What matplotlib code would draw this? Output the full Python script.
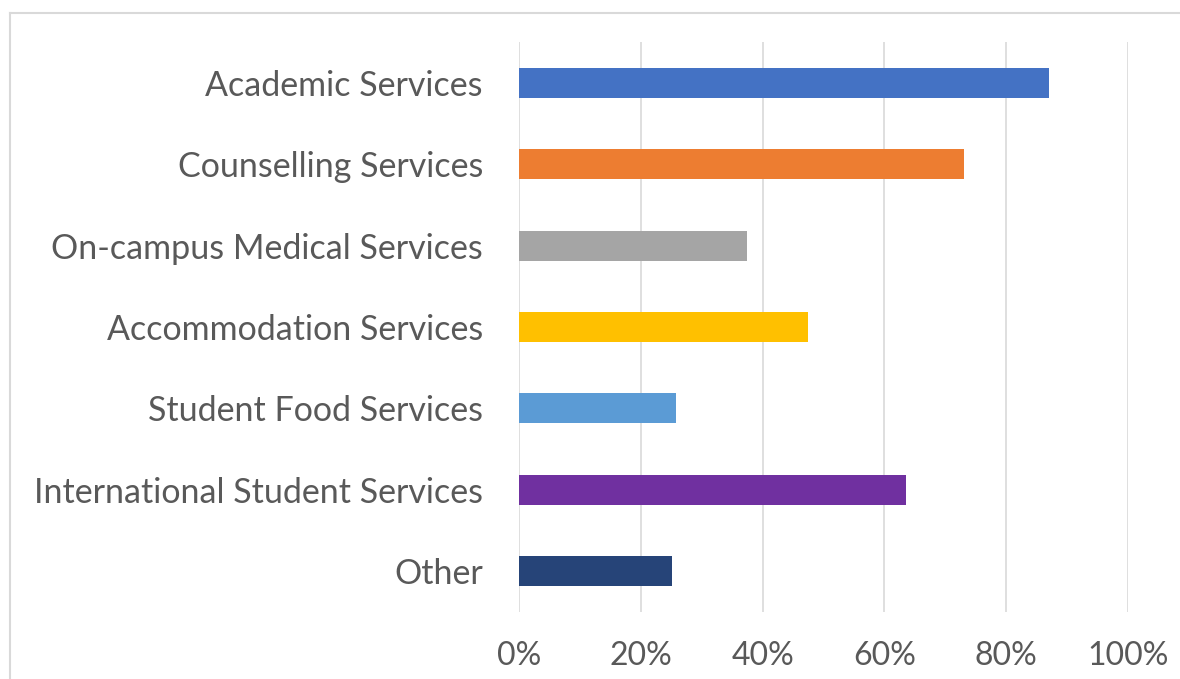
import matplotlib
matplotlib.use("Agg")
import matplotlib.pyplot as plt
from matplotlib.lines import Line2D
from matplotlib.ticker import FuncFormatter

# data
categories = ['Academic Services', 'Counselling Services', 'On-campus Medical Services',
              'Accommodation Services', 'Student Food Services',
              'International Student Services', 'Other']
values = [0.87, 0.73, 0.375, 0.475, 0.258, 0.635, 0.252]
colors = ['#4472C4', '#ED7D31', '#A5A5A5', '#FFC000', '#5B9BD5', '#7030A0', '#264478']
xticks = [0, 0.2, 0.4, 0.6, 0.8, 1.0]

plt.rcParams['font.family'] = ['Lato', 'DejaVu Sans']

fig = plt.figure(figsize=(11.8, 6.79), dpi=100)
fig.patch.set_facecolor('white')

# outer chart-area border (cut off at right and bottom)
W, H = 1180, 679
fig.add_artist(Line2D([10 / W, 1.0], [1 - 13 / H, 1 - 13 / H], transform=fig.transFigure,
                      color='#D9D9D9', lw=1.5))
fig.add_artist(Line2D([10 / W, 10 / W], [0, 1 - 13 / H], transform=fig.transFigure,
                      color='#D9D9D9', lw=1.5))

ax = fig.add_axes([519 / W, 67 / H, 609 / W, 570 / H])
ypos = list(range(len(categories)))
ax.barh(ypos, values, height=0.37, color=colors, zorder=3)

ax.set_xlim(0, 1.0)
ax.set_ylim(len(categories) - 0.5, -0.5)
ax.set_xticks(xticks)
ax.xaxis.set_major_formatter(FuncFormatter(lambda v, p: '{:.0f}%'.format(v * 100)))
ax.set_yticks(ypos)
ax.set_yticklabels(categories)

ax.grid(axis='x', color='#D9D9D9', lw=1.2, zorder=0)
for s in ax.spines.values():
    s.set_visible(False)
ax.tick_params(axis='both', length=0, labelcolor='#595959')
ax.tick_params(axis='y', pad=26, labelsize=24.5)
ax.tick_params(axis='x', pad=21, labelsize=23)

fig.savefig('out.png', dpi=100, facecolor='white')
